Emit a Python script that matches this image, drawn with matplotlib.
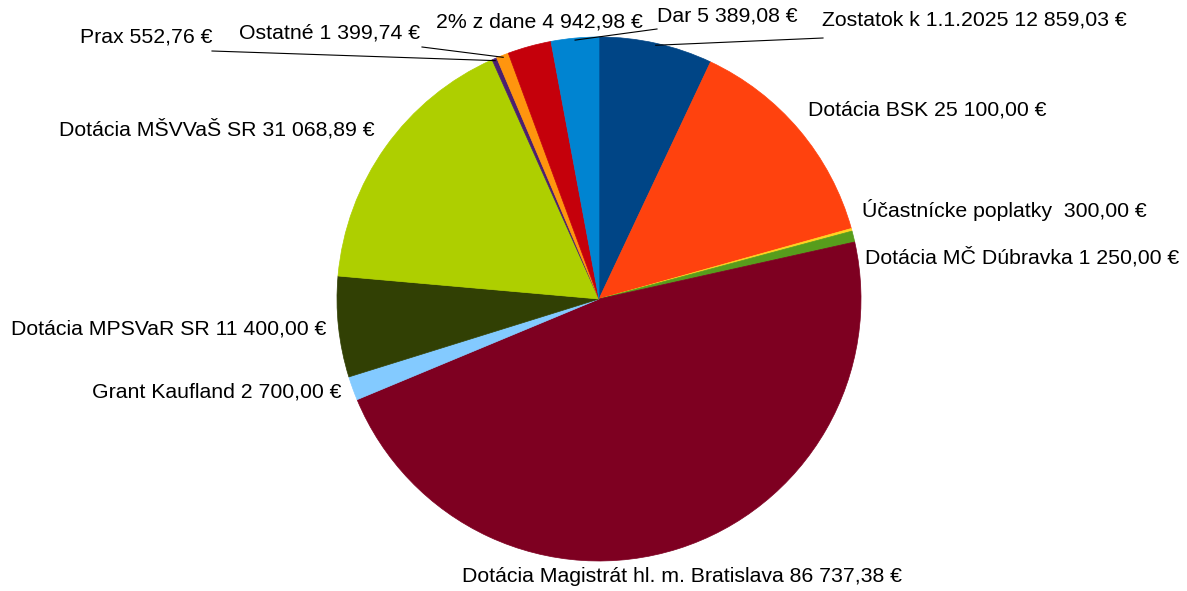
import numpy as np
import matplotlib
matplotlib.use("Agg")
import matplotlib.pyplot as plt

plt.rcParams['font.family'] = ['Liberation Sans', 'DejaVu Sans']

# data, clockwise from 12 o'clock
labels = ["Zostatok k 1.1.2025", "Dotácia BSK", "Účastnícke poplatky ", "Dotácia MČ Dúbravka",
          "Dotácia Magistrát hl. m. Bratislava", "Grant Kaufland", "Dotácia MPSVaR SR",
          "Dotácia MŠVVaŠ SR", "Prax", "Ostatné", "2% z dane", "Dar"]
values = [12859.03, 25100.00, 300.00, 1250.00, 86737.38, 2700.00, 11400.00,
          31068.89, 552.76, 1399.74, 4942.98, 5389.08]
colors = ["#004586", "#ff420e", "#ffd320", "#579d1c", "#7e0021", "#83caff",
          "#314004", "#aecf00", "#4b1f6f", "#ff950e", "#c5000b", "#0084d1"]

# label layout in pixel coords (x, y from top, ha, leader end or None)
W, H = 1187, 591
cx, cy, R = 599, 299, 262
label_pos = [
    (822, 20, "left", (823, 38)),
    (808, 110, "left", None),
    (862, 210, "left", None),
    (865, 257, "left", None),
    (682, 577, "center", None),
    (341, 392, "right", None),
    (326, 329, "right", None),
    (375, 129, "right", None),
    (213, 37, "right", (212, 51)),
    (420, 33, "right", (422, 47)),
    (643, 22, "right", None),
    (657, 16, "left", (657, 29)),
]


def fmt(v):
    s = f"{v:,.2f}"
    return s.replace(",", " ").replace(".", ",") + " €"


fig = plt.figure(figsize=(W / 100, H / 100), dpi=100)
ax = fig.add_axes([0, 0, 1, 1])

wedges, _ = ax.pie(values, colors=colors, startangle=90, counterclock=False,
                   center=(cx, H - cy), radius=R, frame=True)
for w, c in zip(wedges, colors):
    w.set_edgecolor(c)
    w.set_linewidth(0.5)
ax.set_xlim(0, W)
ax.set_ylim(0, H)
ax.set_aspect("equal")
ax.axis("off")

total = sum(values)
start = 0.0
for lab, v, (tx, ty, ha, lead) in zip(labels, values, label_pos):
    frac = v / total * 360
    mid = np.radians(start + frac / 2)
    start += frac
    ax.text(tx, H - ty, f"{lab} {fmt(v)}", ha=ha, va="center", fontsize=15.3, color="black")
    if lead is not None:
        ex = cx + (R - 2) * np.sin(mid)
        ey = H - (cy - (R - 2) * np.cos(mid))
        ax.plot([lead[0], ex], [H - lead[1], ey], color="black", lw=0.8)

fig.savefig("out.png", dpi=100)
